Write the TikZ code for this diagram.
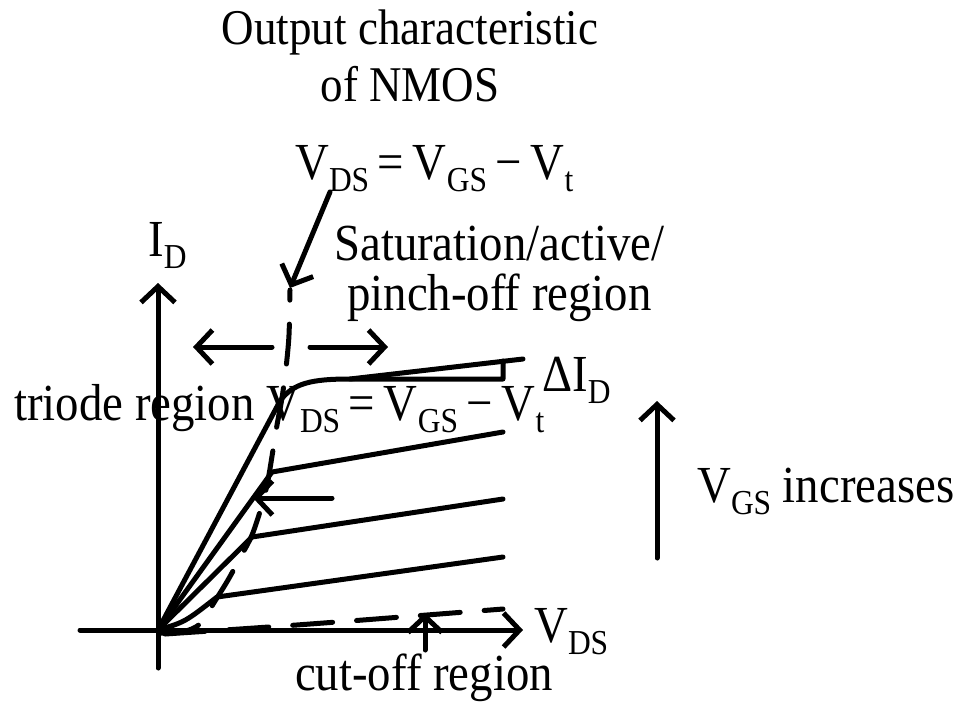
\documentclass[tikz,border=0pt]{standalone}
\usepackage{fontspec}
\setmainfont{Liberation Serif}[FakeStretch=0.9]
\usetikzlibrary{arrows.meta}
\newcommand\sbs[1]{\raisebox{-12pt}{\fontsize{35}{35}\selectfont #1}}
\tikzset{
  crv/.style={line width=5pt, line cap=round, line join=round},
  arr/.style={crv, -{Straight Barb[length=16pt,width=34pt]}},
  dsh/.style={crv, dash pattern=on 40pt off 24pt},
  lbl/.style={inner sep=0pt, anchor=base west, font=\fontsize{52}{58}\selectfont},
  ttl/.style={inner sep=0pt, anchor=base, font=\fontsize{50}{56}\selectfont},
}
\begin{document}
\begin{tikzpicture}[x=1pt,y=-1pt]
\useasboundingbox (0,0) rectangle (961,702);
% texts
\node[ttl] (title1) at (410,44) {Output characteristic};
\node[ttl] (title2) at (410,101) {of NMOS};
\node[lbl] (eqtop) at (295,179) {V\sbs{DS}\,=\,V\sbs{GS}\,−\,V\sbs{t}};
\node[lbl] (id) at (148,256) {I\sbs{D}};
\node[lbl] (sat1) at (334,260) {Saturation/active/};
\node[lbl] (sat2) at (347,310) {pinch-off region};
\node[lbl] (triode) at (14,420) {triode region};
\node[lbl] (eqmid) at (266,420) {V\sbs{DS}\,=\,V\sbs{GS}\,−\,V\sbs{t}};
\node[lbl] (did) at (542,391) {ΔI\sbs{D}};
\node[lbl] (vgs) at (697,502) {V\sbs{GS} increases};
\node[lbl] (vds) at (534,642) {V\sbs{DS}};
\node[lbl] (cut) at (295,690) {cut-off region};
% coordinates
\coordinate (O) at (158,630);
\coordinate (yb) at (158,668); \coordinate (yt) at (158,283);
\coordinate (xl) at (80,630);  \coordinate (xr) at (523,630);
\coordinate (k4) at (280,401); \coordinate (s4) at (350,379);
\coordinate (h4) at (503,379); \coordinate (v4) at (503,361); \coordinate (e4) at (523,359);
\coordinate (k3) at (272,472); \coordinate (e3) at (503,432);
\coordinate (k2) at (252,537); \coordinate (e2) at (503,499);
\coordinate (k1) at (217,597); \coordinate (e1) at (503,557);
% axes
\draw[arr] (yb) -- (yt);
\draw[arr] (xl) -- (xr);
% characteristics
\draw[crv] (O) -- (k4) .. controls (293,383) and (312,379) .. (s4) -- (h4) -- (v4);
\draw[crv] (s4) -- (e4);
\draw[crv] (O) -- (k3) -- (e3);
\draw[crv] (O) -- (k2) -- (e2);
\draw[crv] (O) .. controls (185,622) .. (k1) -- (e1);
% pinch-off locus (dashed)
\draw[dsh] plot[smooth] coordinates {(160,633) (182,632) (200,624) (215,601) (228,580) (240,558) (252,535) (262,505) (268,480) (273,450) (277,425) (282,398) (286,368) (289,335) (290,290)};
% cut-off (dashed)
\coordinate (c0) at (165,634); \coordinate (c1) at (503,609);
\draw[dsh] (c0) .. controls (300,625) .. (c1);
% arrows
\coordinate (sa0) at (330,192); \coordinate (sa1) at (290,288);
\draw[arr] (sa0) -- (sa1);
\coordinate (la0) at (272,347); \coordinate (la1) at (193,347);
\coordinate (ra0) at (310,347); \coordinate (ra1) at (388,347);
\draw[arr] (la0) -- (la1);
\draw[arr] (ra0) -- (ra1);
\coordinate (ma0) at (332,498); \coordinate (ma1) at (253,498);
\draw[arr] (ma0) -- (ma1);
\coordinate (ua0) at (425,650); \coordinate (ua1) at (425,613);
\draw[arr] (ua0) -- (ua1);
\coordinate (ga0) at (657,558); \coordinate (ga1) at (657,401);
\draw[arr] (ga0) -- (ga1);
\end{tikzpicture}
\end{document}
